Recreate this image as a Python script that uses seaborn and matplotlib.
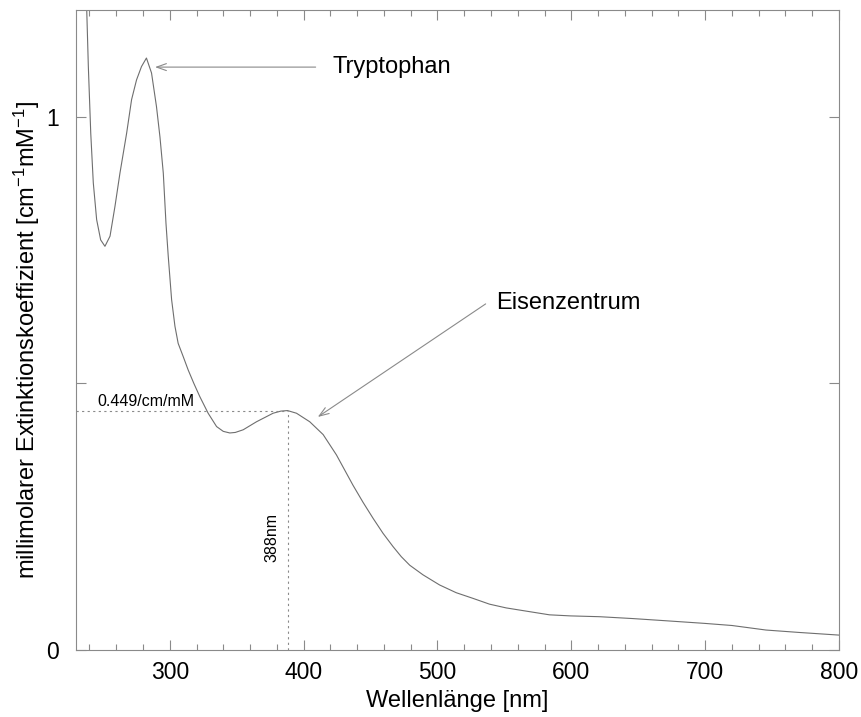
import pandas as pd
import matplotlib.pyplot as plt
import matplotlib.ticker as ticker
import seaborn as sns

# Absorptionsspektrum
wellenlaenge = [236.5, 238.0, 239.2, 241.0, 242.9, 245.4, 248.4, 251.6, 255.4, 259.1,
                262.8, 267.8, 271.5, 275.2, 278.9, 282.6, 286.4, 290.1, 292.7, 295.2,
                297.2, 298.9, 301.4, 303.9, 306.3, 310.1, 313.8, 318.0, 322.5, 328.7,
                335.0, 340.0, 344.9, 349.0, 354.9, 364.8, 377.2, 383.0, 388.0, 394.7,
                404.6, 414.6, 424.5, 436.9, 444.4, 451.9, 459.3, 466.8, 473.0, 479.3,
                489.2, 501.6, 514.0, 526.4, 538.9, 551.3, 563.7, 573.7, 583.7, 599.4,
                621.0, 645.9, 670.0, 699.4, 720.0, 745.4, 770.0, 800.0]
extinktion = [1.36, 1.20, 1.094, 0.969, 0.876, 0.807, 0.769, 0.757, 0.776, 0.832,
              0.894, 0.969, 1.032, 1.069, 1.094, 1.110, 1.082, 1.019, 0.962, 0.894,
              0.800, 0.738, 0.657, 0.607, 0.575, 0.550, 0.525, 0.500, 0.475, 0.444,
              0.419, 0.410, 0.407, 0.408, 0.413, 0.428, 0.444, 0.448, 0.449, 0.444,
              0.428, 0.404, 0.366, 0.309, 0.277, 0.247, 0.219, 0.194, 0.175, 0.159,
              0.141, 0.122, 0.1075, 0.097, 0.086, 0.079, 0.074, 0.070, 0.066, 0.064,
              0.0625, 0.059, 0.055, 0.050, 0.046, 0.0375, 0.033, 0.028]

peak_nm = 388
peak_wert = 0.449

df = pd.DataFrame({'nm': wellenlaenge, 'eps': extinktion})

sns.set_style('ticks')
plt.rcParams['font.family'] = ['Liberation Sans', 'DejaVu Sans']
plt.rcParams['mathtext.fontset'] = 'custom'
plt.rcParams['mathtext.rm'] = 'Liberation Sans'
plt.rcParams['mathtext.it'] = 'Liberation Sans'
plt.rcParams['text.color'] = 'black'
plt.rcParams['axes.labelcolor'] = 'black'
plt.rcParams['xtick.labelcolor'] = 'black'
plt.rcParams['ytick.labelcolor'] = 'black'

grau = '#8a8a8a'

fig, ax = plt.subplots(figsize=(8.61, 7.17), dpi=100)
fig.subplots_adjust(left=0.0883, right=0.9745, bottom=0.0934, top=0.986)

sns.lineplot(data=df, x='nm', y='eps', color='#6e6e6e', linewidth=0.8, ax=ax, sort=False)

# Hilfslinien zum Maximum des Eisenzentrums
ax.plot([230, peak_nm], [peak_wert, peak_wert], color=grau, lw=0.8, linestyle=(0, (2, 3)))
ax.plot([peak_nm, peak_nm], [0, peak_wert], color=grau, lw=0.8, linestyle=(0, (2, 3)))
ax.text(245.7, 0.466, f'{peak_wert}/cm/mM', fontsize=11.5, va='center', ha='left')
ax.text(376, 0.211, f'{peak_nm}nm', fontsize=11.5, rotation=90, va='center', ha='center')

# Pfeile
pfeil = dict(arrowstyle='->,head_length=0.7,head_width=0.25', color=grau, lw=0.8,
             shrinkA=0, shrinkB=0)
ax.annotate('', xy=(289, 1.093), xytext=(409, 1.093), arrowprops=pfeil)
ax.text(421.8, 1.094, 'Tryptophan', fontsize=17, va='center', ha='left')
ax.annotate('', xy=(410.6, 0.437), xytext=(536, 0.649), arrowprops=pfeil)
ax.text(544.2, 0.651, 'Eisenzentrum', fontsize=17, va='center', ha='left')

ax.set_xlim(230, 800)
ax.set_ylim(0, 1.2)
ax.xaxis.set_major_locator(ticker.MultipleLocator(100))
ax.xaxis.set_minor_locator(ticker.MultipleLocator(20))
ax.set_yticks([0, 0.5, 1])
ax.set_yticklabels(['0', '', '1'])

ax.tick_params(axis='both', which='both', direction='in', top=True, right=True, color=grau)
ax.tick_params(axis='both', which='major', length=7, width=0.8, labelsize=16.5)
ax.tick_params(axis='both', which='minor', length=4, width=0.8)
ax.tick_params(axis='y', pad=12)
ax.tick_params(axis='x', pad=8)
for s in ax.spines.values():
    s.set_color(grau)
    s.set_linewidth(0.8)

ax.set_xlabel('Wellenlänge [nm]', fontsize=17, labelpad=4)
ax.set_ylabel('millimolarer Extinktionskoeffizient [cm$^{-1}$mM$^{-1}$]', fontsize=17)
ax.yaxis.set_label_coords(-0.044, 0.485)

plt.savefig('out.png', dpi=100)
plt.close()
